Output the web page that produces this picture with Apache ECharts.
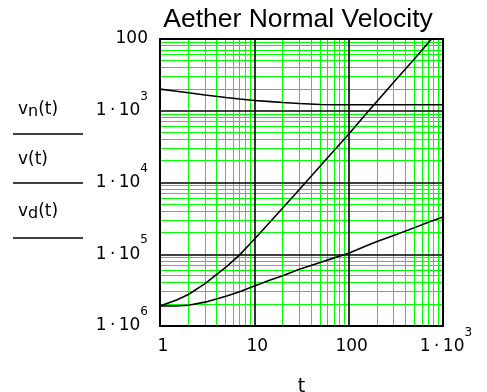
<!DOCTYPE html>
<html>
<head>
<meta charset="utf-8">
<script src="https://cdn.jsdelivr.net/npm/echarts@6/dist/echarts.min.js"></script>
<style>
html,body{margin:0;padding:0;background:#fff;}
#chart{width:487px;height:392px;}
</style>
</head>
<body>
<div id="chart"></div>
<script>
// ---- data ----
const tValues  = [1, 1.5, 2, 3, 5, 7, 10, 15, 20, 30, 50, 70, 100, 150, 200, 300, 500, 700, 1000];
const vnValues = [2.0e-3, 1.87e-3, 1.78e-3, 1.66e-3, 1.53e-3, 1.46e-3, 1.39e-3, 1.34e-3, 1.30e-3, 1.26e-3, 1.22e-3, 1.21e-3, 1.21e-3, 1.21e-3, 1.21e-3, 1.21e-3, 1.21e-3, 1.21e-3, 1.21e-3];
const vValues  = [1.9e-6, 2.3e-6, 2.75e-6, 3.9e-6, 6.6e-6, 9.8e-6, 1.62e-5, 2.9e-5, 4.4e-5, 8.0e-5, 1.7e-4, 2.8e-4, 4.7e-4, 8.8e-4, 1.36e-3, 2.5e-3, 5.3e-3, 8.9e-3, 1.52e-2];
const vdValues = [1.9e-6, 1.9e-6, 1.95e-6, 2.15e-6, 2.6e-6, 3.0e-6, 3.6e-6, 4.4e-6, 5.0e-6, 6.2e-6, 7.7e-6, 8.9e-6, 1.03e-5, 1.29e-5, 1.5e-5, 1.82e-5, 2.35e-5, 2.8e-5, 3.3e-5];

const xDecades = [1, 10, 100, 1000];
const xTickLabels = ['1', '10', '100', '1\u2009·\u200910^3'];
const yDecades = [1e-6, 1e-5, 1e-4, 1e-3, 1e-2];
const yTickLabels = ['1\u2009·\u200910^6', '1\u2009·\u200910^5', '1\u2009·\u200910^4', '1\u2009·\u200910^3', '100'];
const minorSteps = [2, 3, 4, 5, 6, 7, 8, 9];

const titleText = 'Aether Normal Velocity';
const xName = 't';

// ---- helpers ----
function toRich(s) {
  if (s.indexOf('^') >= 0) {
    const p = s.split('^');
    return '{b|' + p[0] + '}{s|' + p[1] + '}';
  }
  return '{b|' + s + '}';
}
function pick(v, decades, labels) {
  const e = Math.round(Math.log10(v));
  for (let i = 0; i < decades.length; i++) {
    if (Math.round(Math.log10(decades[i])) === e) return toRich(labels[i]);
  }
  return '';
}
const richStyle = {
  b: { fontSize: 17, fontFamily: 'DejaVu Sans', color: '#000', lineHeight: 40 },
  s: { fontSize: 12, fontFamily: 'DejaVu Sans', color: '#000', lineHeight: 18, verticalAlign: 'top' }
};

const xMin = xDecades[0], xMax = xDecades[xDecades.length - 1];
const yMin = yDecades[0], yMax = yDecades[yDecades.length - 1];

const minorXData = [];
xDecades.slice(0, -1).forEach(d => minorSteps.forEach(k => minorXData.push([d * k, yMin])));
const minorYData = [];
yDecades.slice(0, -1).forEach(d => minorSteps.forEach(k => minorYData.push([xMin, d * k])));

function crisp(p) { return Math.round(p - 0.5) + 0.5; }
function renderVertical(params, api) {
  const x = crisp(api.coord([api.value(0), yMin])[0]);
  const y1 = api.coord([xMin, yMax])[1];
  const y2 = api.coord([xMin, yMin])[1];
  return { type: 'line', shape: { x1: x, y1: y1, x2: x, y2: y2 }, style: { stroke: '#00ff00', lineWidth: 1 } };
}
function renderHorizontal(params, api) {
  const y = crisp(api.coord([xMin, api.value(1)])[1]);
  const x1 = api.coord([xMin, yMin])[0];
  const x2 = api.coord([xMax, yMin])[0];
  return { type: 'line', shape: { x1: x1, y1: y, x2: x2, y2: y }, style: { stroke: '#00ff00', lineWidth: 1 } };
}

function pairs(vals) { return tValues.map((t, i) => [t, vals[i]]); }

const chart = echarts.init(document.getElementById('chart'), null, { renderer: 'canvas' });
chart.setOption({
  animation: false,
  backgroundColor: '#fff',
  title: {
    text: titleText,
    left: 293, top: 1, textAlign: 'center',
    textStyle: { fontFamily: 'Liberation Sans', fontSize: 26.5, fontWeight: 'normal', color: '#000' }
  },
  grid: { left: 160, top: 39, width: 283, height: 287, show: true, borderColor: '#000', borderWidth: 2, z: 4,
          backgroundColor: 'transparent', containLabel: false, outerBoundsMode: 'none' },
  xAxis: {
    type: 'log', logBase: 10, min: xMin, max: xMax, splitNumber: 3,
    name: xName, nameLocation: 'middle', nameGap: 52,
    nameTextStyle: { fontFamily: 'DejaVu Sans', fontSize: 19, color: '#000' },
    axisLine: { show: false }, axisTick: { show: false },
    splitLine: { show: true, lineStyle: { color: '#000', width: 1.6 } },
    axisLabel: { margin: 1, padding: [0, 0, 0, 6], formatter: v => pick(v, xDecades, xTickLabels), rich: richStyle },
    z: 3
  },
  yAxis: {
    type: 'log', logBase: 10, min: yMin, max: yMax, splitNumber: 4,
    axisLine: { show: false }, axisTick: { show: false },
    splitLine: { show: true, lineStyle: { color: '#000', width: 1.6 } },
    axisLabel: { margin: 12, formatter: v => pick(v, yDecades, yTickLabels), rich: richStyle },
    z: 3
  },
  graphic: [
    { type: 'text', left: 18, top: 101, style: { text: '{a|v}{n|n}{a|(t)}', rich: { a: { fontSize: 17, fontFamily: 'DejaVu Sans', fill: '#000', lineHeight: 20 }, n: { fontSize: 16, fontFamily: 'DejaVu Sans', fill: '#000', lineHeight: 14, verticalAlign: 'bottom' } } } },
    { type: 'line', shape: { x1: 13, y1: 134, x2: 83, y2: 134 }, style: { stroke: '#000', lineWidth: 1.5 } },
    { type: 'text', left: 18, top: 151, style: { text: 'v(t)', font: '17px "DejaVu Sans"', fill: '#000' } },
    { type: 'line', shape: { x1: 13, y1: 183, x2: 83, y2: 183 }, style: { stroke: '#000', lineWidth: 1.5 } },
    { type: 'text', left: 18, top: 203, style: { text: '{a|v}{n|d}{a|(t)}', rich: { a: { fontSize: 17, fontFamily: 'DejaVu Sans', fill: '#000', lineHeight: 20 }, n: { fontSize: 16, fontFamily: 'DejaVu Sans', fill: '#000', lineHeight: 14, verticalAlign: 'bottom' } } } },
    { type: 'line', shape: { x1: 13, y1: 238, x2: 83, y2: 238 }, style: { stroke: '#000', lineWidth: 1.5 } }
  ],
  series: [
    { name: 'minorX', type: 'custom', silent: true, z: 1, clip: false, data: minorXData, renderItem: renderVertical },
    { name: 'minorY', type: 'custom', silent: true, z: 1, clip: false, data: minorYData, renderItem: renderHorizontal },
    { name: 'vn', type: 'line', data: pairs(vnValues), showSymbol: false, z: 6, lineStyle: { color: '#000', width: 1.6 } },
    { name: 'v', type: 'line', data: pairs(vValues), showSymbol: false, z: 6, lineStyle: { color: '#000', width: 1.6 } },
    { name: 'vd', type: 'line', data: pairs(vdValues), showSymbol: false, z: 6, lineStyle: { color: '#000', width: 1.6 } }
  ]
});
</script>
</body>
</html>
